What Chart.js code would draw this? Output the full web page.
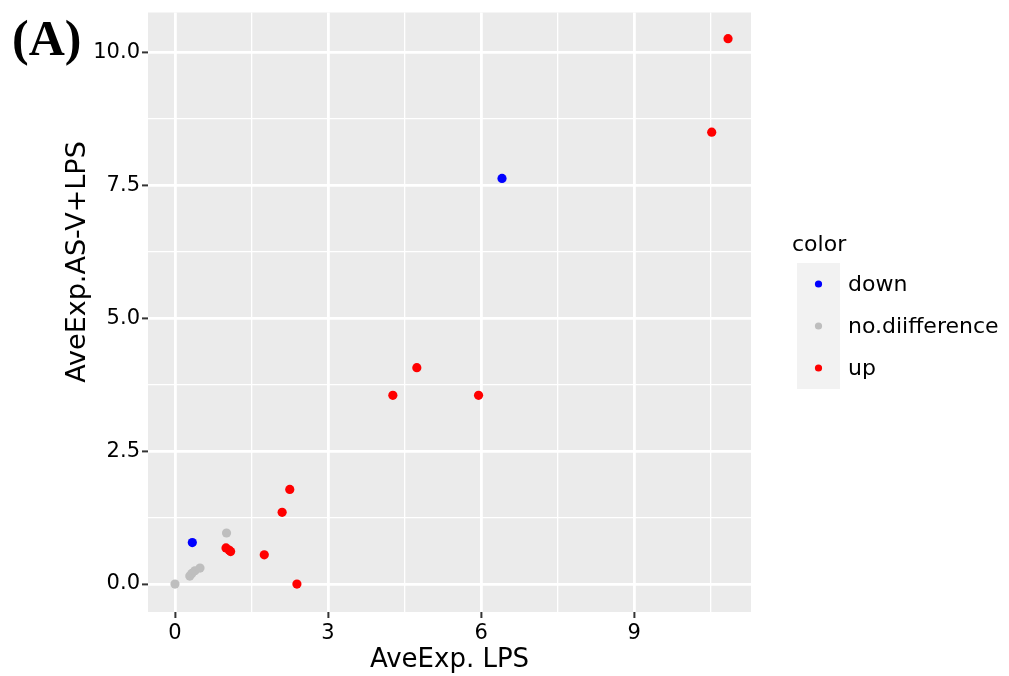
<!DOCTYPE html>
<html>
<head>
<meta charset="utf-8">
<script src="https://cdn.jsdelivr.net/npm/chart.js@4/dist/chart.umd.min.js"></script>
<style>
  html, body { margin: 0; padding: 0; background: #fff; }
  #wrap { width: 1009px; height: 676px; position: relative; }
</style>
</head>
<body>
<div id="wrap"><canvas id="c" width="1009" height="676"></canvas></div>
<script>
// Series values
const downX = [0.34, 6.41];
const downY = [0.78, 7.63];

const noDiffX = [0, 0.29, 0.33, 0.39, 0.49, 1.01];
const noDiffY = [0, 0.15, 0.20, 0.25, 0.30, 0.96];

const upX = [10.84, 10.52, 4.74, 4.27, 5.95, 2.25, 2.10, 1.00, 1.06, 1.09, 1.75, 2.39];
const upY = [10.26, 8.50, 4.07, 3.55, 3.55, 1.78, 1.35, 0.68, 0.64, 0.61, 0.55, 0.00];

const seriesNames = ['down', 'no.diifference', 'up'];
const seriesColors = ['#0000FF', '#BEBEBE', '#FF0000'];

// Axis ticks
const xMajor = [0, 3, 6, 9];
const xMinor = [1.5, 4.5, 7.5, 10.5];
const yMajor = [0, 2.5, 5, 7.5, 10];
const yMinor = [1.25, 3.75, 6.25, 8.75];

const xTitle = 'AveExp. LPS';
const yTitle = 'AveExp.AS-V+LPS';
const legendTitle = 'color';
const panelLabel = '(A)';

const FONT = "'DejaVu Sans', sans-serif";

let toPoints = function (xs, ys) {
    return xs.map((x, i) => ({ x: x, y: ys[i] }));
};

const datasets = [
    { label: seriesNames[0], data: toPoints(downX, downY) },
    { label: seriesNames[1], data: toPoints(noDiffX, noDiffY) },
    { label: seriesNames[2], data: toPoints(upX, upY) }
].map((d, i) => Object.assign(d, {
    backgroundColor: seriesColors[i],
    borderColor: seriesColors[i],
    pointRadius: 4.6,
    pointBorderWidth: 0,
    pointHoverRadius: 4.6
}));

// grey panel background
const panelBg = {
    id: 'panelBg',
    beforeDraw(chart) {
        const { ctx, chartArea: a } = chart;
        ctx.save();
        ctx.fillStyle = '#EBEBEB';
        ctx.fillRect(a.left, a.top, a.right - a.left, a.bottom - a.top);
        ctx.restore();
    }
};

// y title, panel letter and the legend
const extras = {
    id: 'extras',
    afterDraw(chart) {
        const ctx = chart.ctx;
        ctx.save();

        ctx.fillStyle = '#000';
        ctx.font = "bold 50px 'Liberation Serif', serif";
        ctx.textAlign = 'left';
        ctx.textBaseline = 'alphabetic';
        ctx.fillText(panelLabel, 12, 55);

        ctx.save();
        ctx.translate(78, 262);
        ctx.rotate(-Math.PI / 2);
        ctx.font = '27px ' + FONT;
        ctx.textAlign = 'center';
        ctx.textBaseline = 'middle';
        ctx.fillText(yTitle, 0, 0);
        ctx.restore();

        // legend
        ctx.font = '22px ' + FONT;
        ctx.textAlign = 'left';
        ctx.textBaseline = 'middle';
        ctx.fillText(legendTitle, 792, 245);
        chart.data.datasets.forEach((ds, i) => {
            const top = 263 + i * 42;
            ctx.fillStyle = '#F2F2F2';
            ctx.fillRect(797, top, 43, 42);
            ctx.fillStyle = ds.backgroundColor;
            ctx.beginPath();
            ctx.arc(818.5, top + 21, 3.6, 0, Math.PI * 2);
            ctx.fill();
            ctx.fillStyle = '#000';
            ctx.fillText(ds.label, 848, top + 22);
        });
        ctx.restore();
    }
};

let isMajor = function (list, v) {
    return list.some(m => Math.abs(m - v) < 1e-6);
};

new Chart(document.getElementById('c'), {
    type: 'scatter',
    data: { datasets: datasets },
    plugins: [panelBg, extras],
    options: {
        responsive: false,
        animation: false,
        events: [],
        layout: { padding: { top: 12, right: 258, bottom: 0, left: 0 } },
        plugins: {
            legend: { display: false },
            tooltip: { enabled: false }
        },
        scales: {
            x: {
                type: 'linear',
                min: -0.529,
                max: 11.29,
                afterFit(scale) { scale.height = 64; },
                afterBuildTicks(scale) {
                    scale.ticks = xMajor.concat(xMinor).sort((a, b) => a - b).map(v => ({ value: v }));
                },
                border: { display: false },
                grid: {
                    color: '#FFFFFF',
                    lineWidth: c => isMajor(xMajor, c.tick.value) ? 2.8 : 1.3,
                    drawTicks: true,
                    tickLength: 6,
                    tickWidth: 2,
                    tickColor: c => isMajor(xMajor, c.tick.value) ? '#333333' : 'rgba(0,0,0,0)'
                },
                ticks: {
                    autoSkip: false,
                    maxRotation: 0,
                    padding: 3,
                    color: '#000',
                    font: { family: FONT, size: 21 },
                    callback: v => isMajor(xMajor, v) ? String(v) : ''
                },
                title: {
                    display: true,
                    text: xTitle,
                    color: '#000',
                    font: { family: FONT, size: 26 },
                    padding: { top: 0, bottom: 0 }
                }
            },
            y: {
                type: 'linear',
                min: -0.526,
                max: 10.752,
                afterFit(scale) { scale.width = 148; },
                afterBuildTicks(scale) {
                    scale.ticks = yMajor.concat(yMinor).sort((a, b) => a - b).map(v => ({ value: v }));
                },
                border: { display: false },
                grid: {
                    color: '#FFFFFF',
                    lineWidth: c => isMajor(yMajor, c.tick.value) ? 2.8 : 1.3,
                    drawTicks: true,
                    tickLength: 6,
                    tickWidth: 2,
                    tickColor: c => isMajor(yMajor, c.tick.value) ? '#333333' : 'rgba(0,0,0,0)'
                },
                ticks: {
                    autoSkip: false,
                    padding: 2,
                    color: '#000',
                    font: { family: FONT, size: 21, lineHeight: 1 },
                    callback: v => isMajor(yMajor, v) ? v.toFixed(1) : ''
                },
                title: { display: false }
            }
        }
    }
});
</script>
</body>
</html>
